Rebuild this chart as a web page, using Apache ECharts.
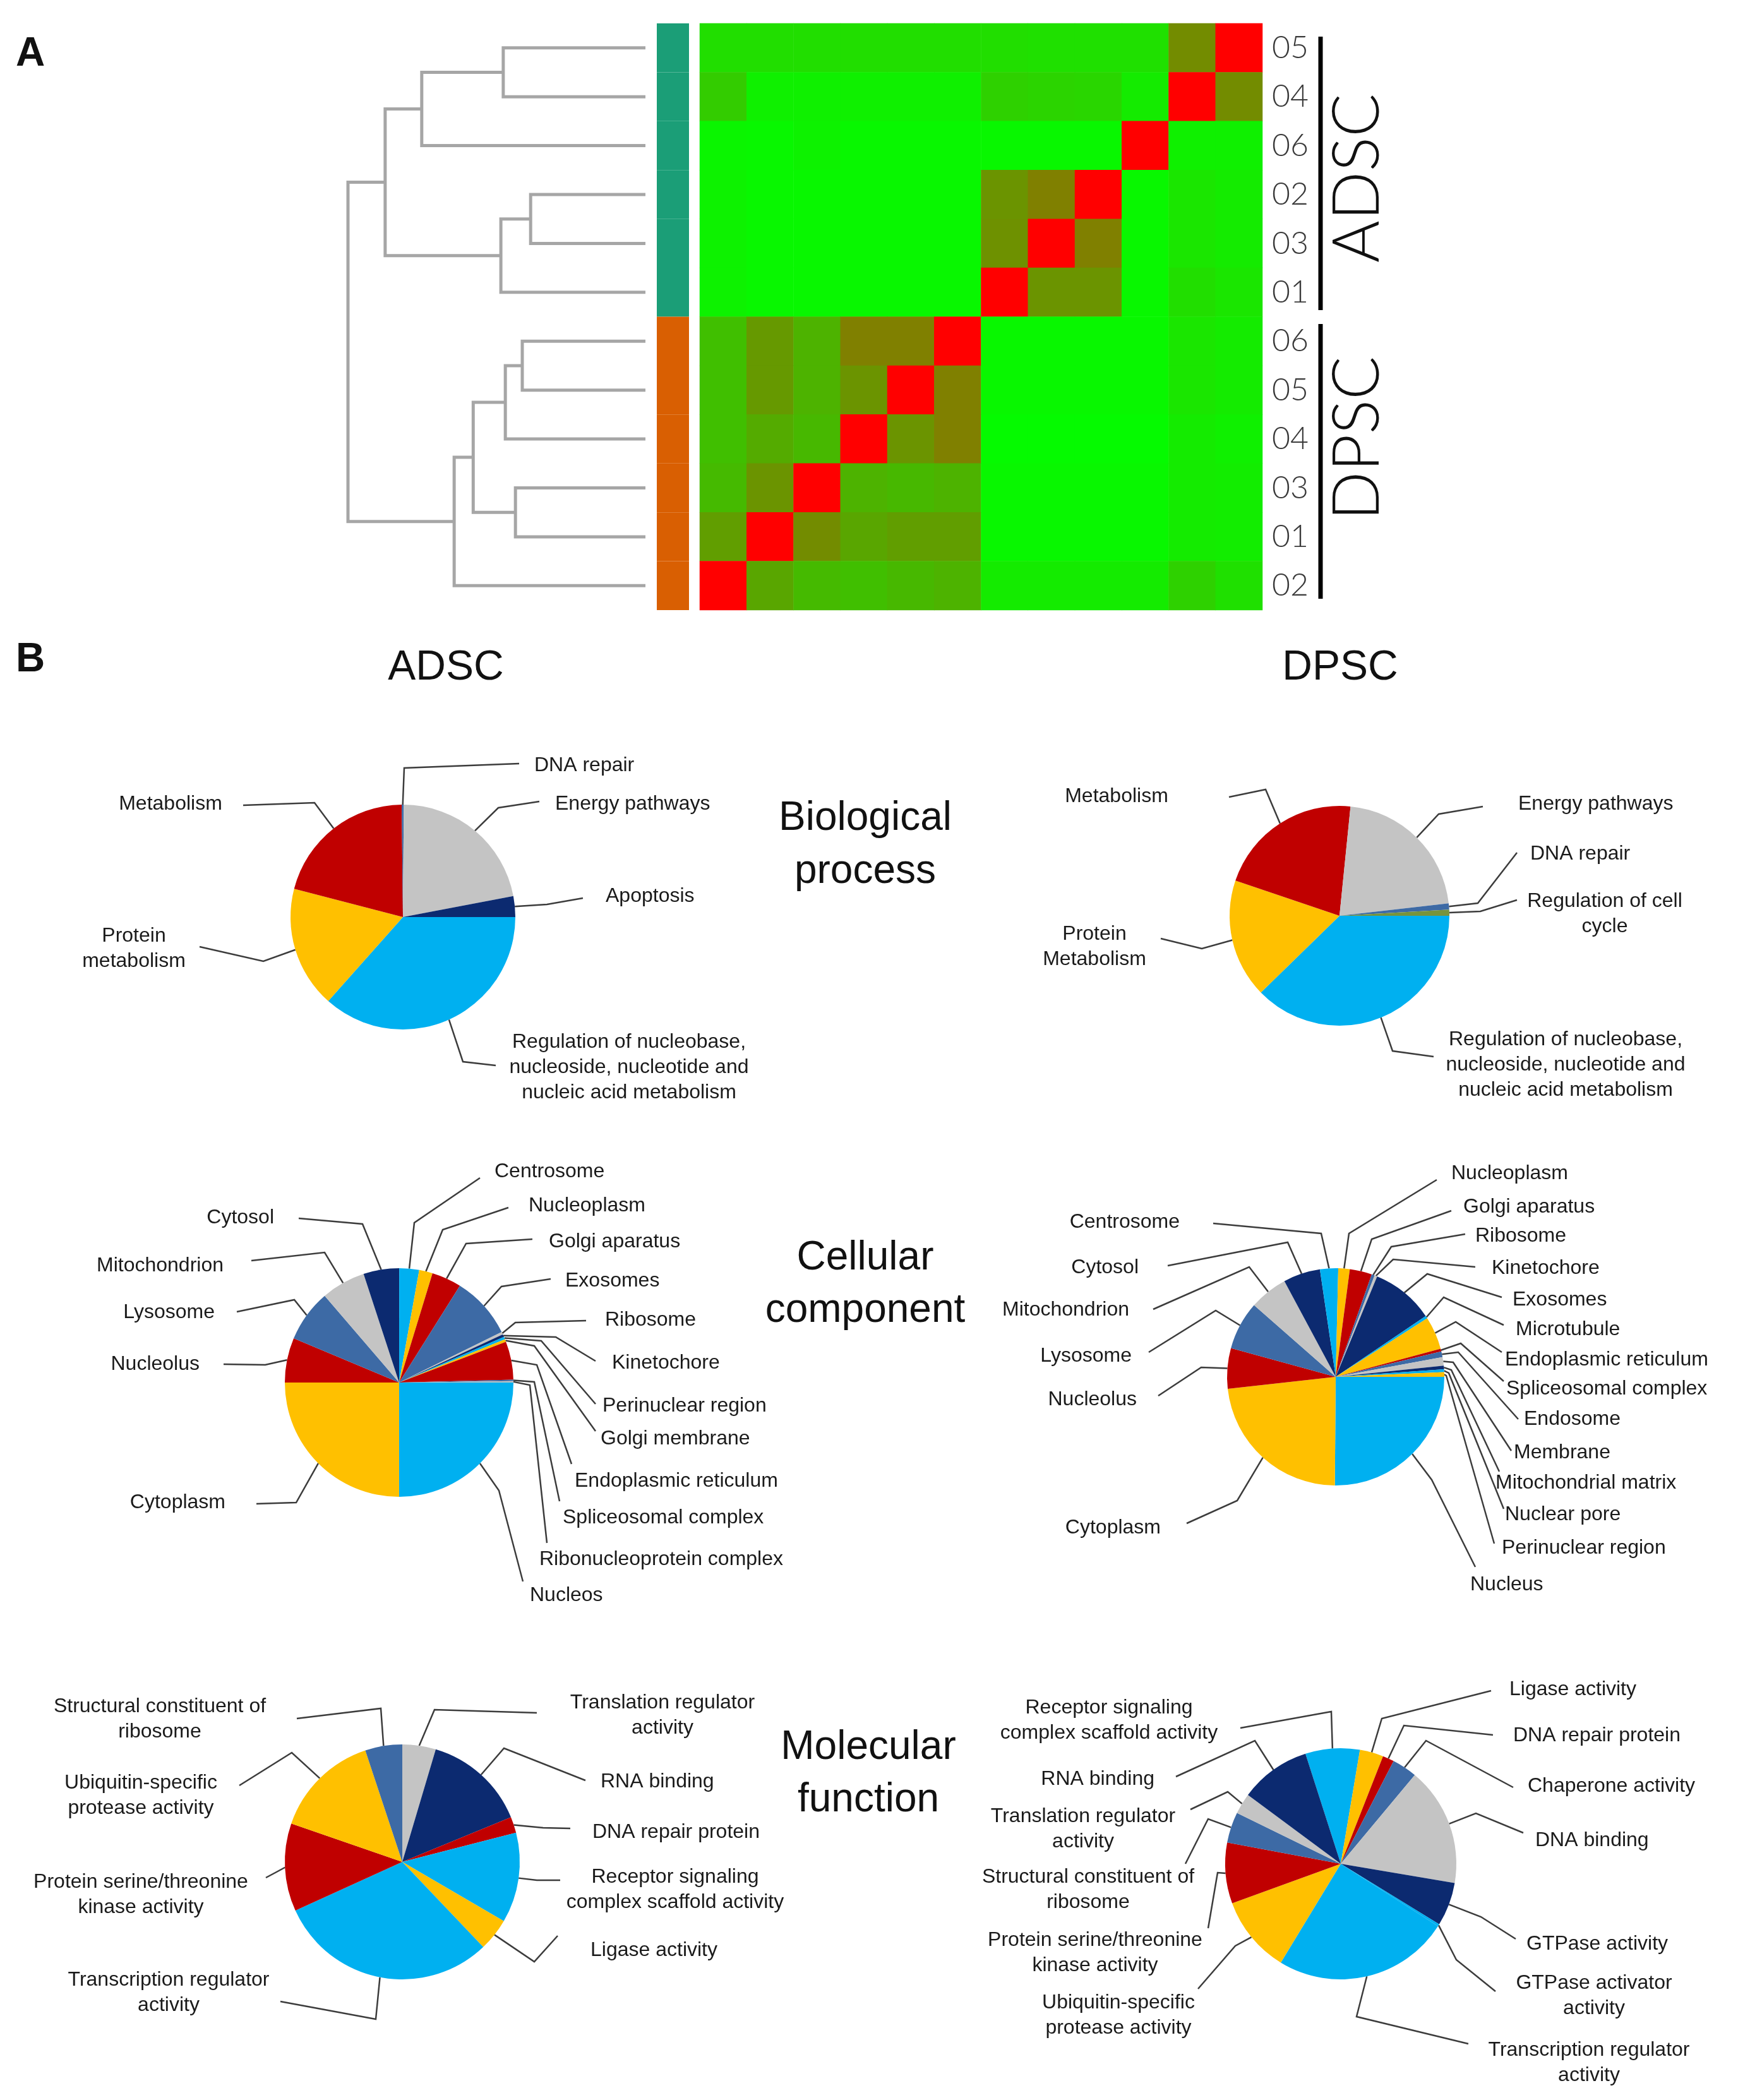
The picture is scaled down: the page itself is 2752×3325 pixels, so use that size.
<!DOCTYPE html>
<html>
<head>
<meta charset="utf-8">
<script src="https://cdn.jsdelivr.net/npm/echarts@6/dist/echarts.min.js"></script>
<style>
html,body{margin:0;padding:0;background:#fff;}
#chart{width:2752px;height:3325px;}
</style>
</head>
<body>
<div id="chart"></div>
<script>
// ================= Panel A data =================
const rowLabels = ['05','04','06','02','03','01','06','05','04','03','01','02'];
const rowGroups = ['ADSC','ADSC','ADSC','ADSC','ADSC','ADSC','DPSC','DPSC','DPSC','DPSC','DPSC','DPSC'];
const colLabels = ['DPSC 02','DPSC 01','DPSC 03','DPSC 04','DPSC 05','DPSC 06','ADSC 01','ADSC 03','ADSC 02','ADSC 06','ADSC 04','ADSC 05'];
// correlation-like values (0 = green, 1 = red), rows top->bottom, cols left->right
const corr = [
  [0.13,0.13,0.13,0.13,0.13,0.13,0.13,0.12,0.12,0.12,0.45,1.00],
  [0.20,0.06,0.06,0.06,0.06,0.06,0.18,0.17,0.16,0.08,1.00,0.45],
  [0.04,0.03,0.05,0.03,0.03,0.03,0.03,0.03,0.03,1.00,0.06,0.06],
  [0.05,0.03,0.03,0.03,0.03,0.03,0.42,0.50,1.00,0.03,0.10,0.08],
  [0.05,0.03,0.03,0.03,0.03,0.03,0.43,1.00,0.50,0.03,0.10,0.08],
  [0.05,0.03,0.03,0.03,0.03,0.03,1.00,0.42,0.42,0.03,0.13,0.10],
  [0.25,0.40,0.30,0.50,0.50,1.00,0.03,0.03,0.03,0.03,0.10,0.08],
  [0.25,0.40,0.30,0.42,1.00,0.50,0.03,0.03,0.03,0.03,0.10,0.08],
  [0.25,0.33,0.28,1.00,0.42,0.50,0.02,0.02,0.02,0.02,0.08,0.06],
  [0.27,0.42,1.00,0.30,0.28,0.30,0.03,0.03,0.03,0.03,0.08,0.07],
  [0.38,1.00,0.45,0.35,0.38,0.38,0.03,0.03,0.03,0.03,0.08,0.07],
  [1.00,0.35,0.27,0.25,0.28,0.30,0.08,0.08,0.08,0.08,0.18,0.12]
];
// hierarchical clustering linkage: [childA, childB, height]; ids >= 12 are merged nodes
const linkage = [
  [0,1,0.478],
  [12,2,0.752],
  [3,4,0.386],
  [14,5,0.486],
  [13,15,0.875],
  [6,7,0.414],
  [17,8,0.471],
  [9,10,0.437],
  [18,19,0.579],
  [20,11,0.643],
  [16,21,1.0]
];

// ================= Panel B data =================
const bpAdscNames = ['Regulation of nucleobase,\nnucleoside, nucleotide and\nnucleic acid metabolism','Protein\nmetabolism','Metabolism','DNA repair','Energy pathways','Apoptosis'];
const bpAdscValues = [36.6,17.5,20.8,0.3,21.9,3.0];

const bpDpscNames = ['Regulation of nucleobase,\nnucleoside, nucleotide and\nnucleic acid metabolism','Protein\nMetabolism','Metabolism','Energy pathways','DNA repair','Regulation of cell\ncycle'];
const bpDpscValues = [37.7,17.5,21.4,21.6,0.9,0.9];

const ccAdscNames = ['Nucleos','Cytoplasm','Nucleolus','Lysosome','Mitochondrion','Cytosol','Centrosome','Nucleoplasm','Golgi aparatus','Exosomes','Ribosome','Kinetochore','Perinuclear region','Golgi membrane','Endoplasmic reticulum','Spliceosomal complex','Ribonucleoprotein complex'];
const ccAdscValues = [25.0,25.0,6.3,7.4,6.25,5.05,2.8,1.9,4.2,8.8,0.37,0.37,0.37,0.37,5.4,0.2,0.2];

const ccDpscNames = ['Nucleus','Cytoplasm','Nucleolus','Lysosome','Mitochondrion','Cytosol','Centrosome','Nucleoplasm','Golgi aparatus','Ribosome','Kinetochore','Exosomes','Microtubule','Endoplasmic reticulum','Spliceosomal complex','Endosome','Membrane','Mitochondrial matrix','Nuclear pore','Perinuclear region'];
const ccDpscValues = [25.1,23.1,6.0,7.2,5.7,5.5,2.7,1.7,3.3,0.45,0.4,9.3,0.4,4.9,0.4,0.85,1.25,0.55,0.4,0.7];

const mfAdscNames = ['Translation regulator\nactivity','RNA binding','DNA repair protein','Receptor signaling\ncomplex scaffold activity','Ligase activity','Transcription regulator\nactivity','Protein serine/threonine\nkinase activity','Ubiquitin-specific\nprotease activity','Structural constituent of\nribosome'];
const mfAdscValues = [4.6,14.2,2.2,12.4,4.5,30.3,12.1,14.6,5.1];

const mfDpscNames = ['Receptor signaling\ncomplex scaffold activity','Ligase activity','DNA repair protein','Chaperone activity','DNA binding','GTPase activity','GTPase activator\nactivity','Transcription regulator\nactivity','Ubiquitin-specific\nprotease activity','Protein serine/threonine\nkinase activity','Structural constituent of\nribosome','Translation regulator\nactivity','RNA binding'];
const mfDpscValues = [7.6,3.3,1.6,3.5,16.6,6.1,0.3,24.6,10.75,8.5,4.3,2.9,9.9];

// ================= Styles / layout (not data) =================
const LB='#00b0f0', YE='#ffc000', RE='#c00000', SB='#3d6aa5', GR='#c4c4c4', NV='#0c2a70', OG='#77933c';
const cycle6 = [LB,YE,RE,SB,GR,NV];
const cyc = n => Array.from({length:n},(_,i)=>cycle6[i%6]);
const groupColor = {ADSC:'#1b9e77', DPSC:'#d95f02'};

const pieSpecs = [
  {names:bpAdscNames, values:bpAdscValues, colors:[LB,YE,RE,SB,GR,NV], center:[638,1452], r:178, start:0,
   pos:[[996,1690,'center',733,1681,785,1687],[212,1502,'center',417,1522,316,1499],[270,1273,'center',498,1271,385,1275],
        [846,1212,'left',640,1216,822,1209],[879,1273,'left',789,1279,854,1269],[959,1419,'left',866,1432,923,1422]]},
  {names:bpDpscNames, values:bpDpscValues, colors:[LB,YE,RE,GR,SB,OG], center:[2121,1450], r:174, start:0,
   pos:[[2479,1686,'center',2205,1664,2270,1673],[1733,1499,'center',1903,1502,1838,1486],[1768,1261,'center',2004,1250,1946,1262],
        [2404,1273,'left',2278,1289,2348,1277],[2423,1352,'left',2340,1430,2402,1350],[2541,1447,'center',2344,1443,2402,1425]]},
  {names:ccAdscNames, values:ccAdscValues, colors:cyc(17), center:[632,2189], r:181, start:0,
   pos:[[839,2526,'left',790,2360,828,2504],[357,2379,'right',469,2379,406,2381],[316,2160,'right',420,2161,354,2160],
        [340,2078,'right',466,2058,375,2077],[354,2004,'right',514,1983,398,1996],[434,1928,'right',574,1938,473,1929],
        [783,1855,'left',656,1936,760,1865],[837,1909,'left',701,1947,805,1912],[869,1966,'left',738,1969,843,1962],
        [895,2028,'left',794,2037,872,2025],[958,2090,'left',816,2094,928,2091],[969,2158,'left',880,2117,943,2155],
        [954,2226,'left',857,2123,943,2223],[951,2278,'left',846,2131,943,2266],[910,2345,'left',850,2161,905,2318],
        [891,2403,'left',846,2188,886,2377],[854,2469,'left',839,2193,866,2443]]},
  {names:ccDpscNames, values:ccDpscValues, colors:cyc(20), center:[2115,2180], r:172, start:0,
   pos:[[2328,2509,'left',2267,2343,2336,2481],[1838,2419,'right',1959,2376,1879,2412],[1800,2216,'right',1902,2165,1834,2210],
        [1792,2147,'right',1925,2075,1819,2141],[1788,2074,'right',1978,2006,1826,2073],[1803,2007,'right',2039,1967,1849,2004],
        [1868,1935,'right',2092,1953,1921,1937],[2298,1858,'left',2136,1953,2275,1868],[2317,1911,'left',2172,1962,2298,1917],
        [2336,1957,'left',2203,1974,2320,1954],[2362,2008,'left',2206,1994,2336,2006],[2395,2058,'left',2260,2017,2378,2054],
        [2400,2105,'left',2286,2054,2381,2098],[2383,2153,'left',2305,2093,2378,2141],[2385,2199,'left',2313,2127,2381,2187],
        [2413,2247,'left',2309,2141,2404,2247],[2397,2300,'left',2301,2157,2393,2297],[2368,2348,'left',2298,2169,2374,2330],
        [2383,2398,'left',2294,2174,2381,2389],[2378,2451,'left',2290,2178,2366,2444]]},
  {names:mfAdscNames, values:mfAdscValues, colors:[GR,NV,RE,LB,YE,LB,RE,YE,SB], center:[637,2948], r:186, start:90,
   pos:[[1049,2716,'center',688,2707,850,2712],[951,2821,'left',798,2768,927,2819],[938,2901,'left',860,2894,903,2895],
        [1069,2992,'center',850,2977,887,2977],[935,3088,'left',846,3106,883,3065],[267,3155,'center',595,3197,444,3169],
        [223,3000,'center',436,2965,421,2973],[223,2843,'center',462,2775,379,2827],[253,2722,'center',603,2705,470,2721]]},
  {names:mfDpscNames, values:mfDpscValues, colors:[LB,YE,RE,SB,GR,NV,LB,LB,YE,RE,SB,GR,NV], center:[2123,2951], r:183, start:107.8,
   pos:[[1756,2724,'center',2108,2710,1964,2736],[2390,2675,'left',2188,2721,2361,2677],[2396,2748,'left',2223,2732,2364,2747],
        [2419,2828,'left',2258,2756,2396,2830],[2431,2914,'left',2337,2871,2412,2902],[2417,3078,'left',2345,3035,2400,3070],
        [2524,3160,'center',2306,3103,2368,3153],[2516,3266,'center',2148,3193,2325,3236],[1771,3191,'center',1956,3081,1897,3149],
        [1734,3092,'center',1928,2965,1913,3053],[1723,2992,'center',1913,2880,1877,2951],[1715,2896,'center',1944,2837,1885,2865],
        [1828,2817,'right',1987,2756,1862,2813]]}
];

// ================= Build =================
const rowIds = rowLabels.map((l,i)=>rowGroups[i]+' '+l);
const heatData = [];
corr.forEach((row,r)=>row.forEach((v,c)=>heatData.push([c,r,v])));

const nLeaf = rowLabels.length;
const nodeY = [], nodeH = [];
for (let i=0;i<nLeaf;i++){nodeY[i]=i;nodeH[i]=0;}
const dendroData = linkage.map((m,k)=>{
  const [a,b,h] = m, id = nLeaf+k;
  nodeY[id] = (nodeY[a]+nodeY[b])/2; nodeH[id] = h;
  return {coords:[[nodeH[a],nodeY[a]],[h,nodeY[a]],[h,nodeY[b]],[nodeH[b],nodeY[b]]]};
});

function edgePoint(spec, idx){
  const total = spec.values.reduce((s,v)=>s+v,0);
  let acc = 0; for (let i=0;i<idx;i++) acc += spec.values[i];
  const mid = (acc + spec.values[idx]/2)/total*360;
  const ang = (spec.start - mid)*Math.PI/180;
  return [spec.center[0]+spec.r*Math.cos(ang), spec.center[1]-spec.r*Math.sin(ang)];
}

const pieSeries = pieSpecs.map(spec=>({
  type:'pie', center:spec.center, radius:spec.r, startAngle:spec.start, clockwise:true,
  avoidLabelOverlap:false, silent:true, animation:false,
  itemStyle:{borderWidth:0},
  emphasis:{disabled:true},
  data: spec.names.map((n,i)=>({name:n, value:spec.values[i], itemStyle:{color:spec.colors[i]}})),
  label:{show:true, position:'outside', formatter:'{b}', fontFamily:'"Liberation Sans", Arial, sans-serif', fontSize:32, color:'#1a1a1a', lineHeight:40},
  labelLine:{show:true, smooth:false, lineStyle:{color:'#3c3c3c', width:2.5}},
  labelLayout: function(params){
    const p = spec.pos[params.dataIndex];
    const start = (params.labelLinePoints && params.labelLinePoints[0]) ? params.labelLinePoints[0] : edgePoint(spec, params.dataIndex);
    return {x:p[0], y:p[1], align:p[2], verticalAlign:'middle', labelLinePoints:[start,[p[3],p[4]],[p[5],p[6]]]};
  }
}));

const txt = (x,y,text,size,opts)=>Object.assign({type:'text', x:x, y:y, silent:true,
  style:Object.assign({text:text, fontSize:size, fontFamily:'"Liberation Sans", Arial, sans-serif', fill:'#111',
    align:'center', verticalAlign:'middle', textAlign:'center', textVerticalAlign:'middle'}, opts||{})});

const graphics = [
  txt(25,86,'A',64,{fontWeight:'bold', align:'left', textAlign:'left'}),
  txt(25,1045,'B',64,{fontWeight:'bold', align:'left', textAlign:'left'}),
  txt(706,1058,'ADSC',66),
  txt(2122,1058,'DPSC',66),
  txt(1370,1296,'Biological',64), txt(1370,1380,'process',64),
  txt(1370,1992,'Cellular',64), txt(1370,2075,'component',64),
  txt(1375,2767,'Molecular',64), txt(1375,2850,'function',64),
  Object.assign(txt(2150,282,'ADSC',102,{fontFamily:'Lato, "Open Sans", sans-serif', fontWeight:300, fill:'#111'}),{rotation:Math.PI/2}),
  Object.assign(txt(2150,694,'DPSC',102,{fontFamily:'Lato, "Open Sans", sans-serif', fontWeight:300, fill:'#111'}),{rotation:Math.PI/2}),
  {type:'line', silent:true, shape:{x1:2091,y1:58,x2:2091,y2:491}, style:{stroke:'#000', lineWidth:7}},
  {type:'line', silent:true, shape:{x1:2091,y1:513,x2:2091,y2:948}, style:{stroke:'#000', lineWidth:7}}
];

const option = {
  backgroundColor:'#ffffff',
  animation:false,
  grid:[
    {left:1108, top:37, width:891, height:929, outerBoundsMode:'none', containLabel:false},
    {left:551, top:37, width:471, height:929, outerBoundsMode:'none', containLabel:false},
    {left:1040, top:37, width:51, height:929, outerBoundsMode:'none', containLabel:false}
  ],
  xAxis:[
    {gridIndex:0, type:'category', data:colLabels, show:false},
    {gridIndex:1, type:'value', min:0, max:1, inverse:true, show:false},
    {gridIndex:2, type:'value', min:0, max:1, show:false}
  ],
  yAxis:[
    {gridIndex:0, type:'category', data:rowIds, inverse:true, position:'right',
     axisLine:{show:false}, axisTick:{show:false}, splitLine:{show:false},
     axisLabel:{show:true, margin:15, fontSize:50, fontWeight:300, color:'#3a3a3a', fontFamily:'Lato, "Open Sans", sans-serif',
       formatter:v=>v.split(' ')[1]}},
    {gridIndex:1, type:'value', min:-0.5, max:11.5, inverse:true, show:false},
    {gridIndex:2, type:'category', data:rowIds, inverse:true, show:false}
  ],
  visualMap:{type:'continuous', min:0, max:1, seriesIndex:0, show:false, inRange:{color:['#00ff00','#ff0000']}},
  series:[
    {type:'heatmap', xAxisIndex:0, yAxisIndex:0, data:heatData, silent:true, emphasis:{disabled:true}},
    {type:'lines', coordinateSystem:'cartesian2d', xAxisIndex:1, yAxisIndex:1, polyline:true, silent:true,
     data:dendroData, lineStyle:{color:'#a6a6a6', width:5, opacity:1}},
    {type:'bar', xAxisIndex:2, yAxisIndex:2, barWidth:'100%', silent:true,
     data:rowGroups.map(g=>({value:1, itemStyle:{color:groupColor[g], borderColor:groupColor[g], borderWidth:2}}))}
  ].concat(pieSeries),
  graphic:{elements:graphics}
};

const chart = echarts.init(document.getElementById('chart'), null, {renderer:'canvas'});
chart.setOption(option);
</script>
</body>
</html>
